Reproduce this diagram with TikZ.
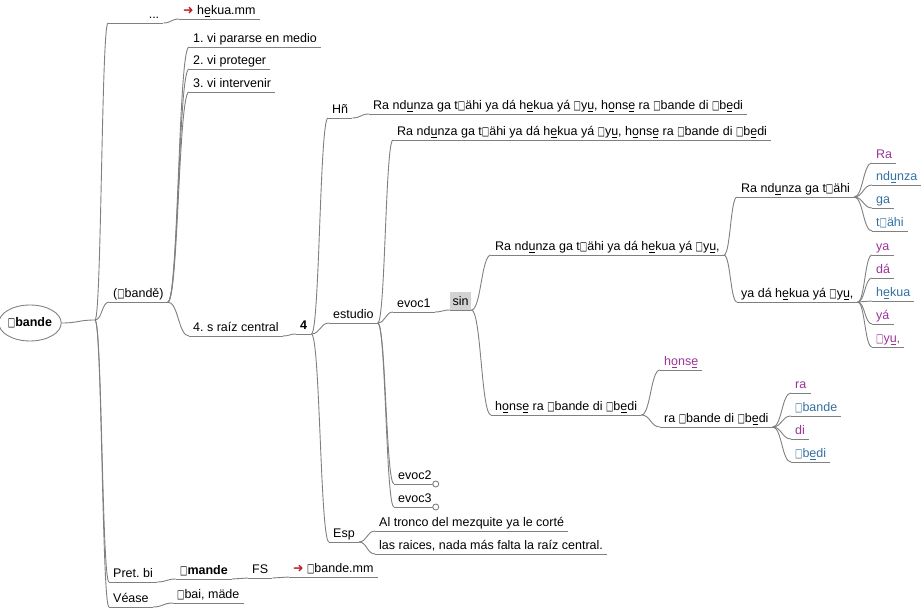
\documentclass[tikz,border=0pt]{standalone}
\usepackage{fontspec}
\usepackage{graphicx}
\usepackage{xcolor}
\usetikzlibrary{positioning, calc, shapes.geometric}
\setmainfont{Liberation Sans}
\newfontfamily\symfont{DejaVu Sans}
\frenchspacing
\definecolor{wirec}{RGB}{128,128,128}
\definecolor{wordA}{RGB}{153,51,153}
\definecolor{wordB}{RGB}{51,112,160}
\definecolor{linkred}{RGB}{190,30,35}
\definecolor{sinfill}{RGB}{210,210,210}
\newcommand{\bx}{{\symfont\scalebox{0.62}[0.95]{□}}}
\newcommand{\lowln}[1]{\setbox0\hbox{#1}\rlap{\kern0.8pt\rule[-1.6pt]{\dimexpr\wd0-1.6pt\relax}{0.45pt}}\box0\relax}
\newcommand{\lnk}{{\symfont\color{linkred}➜}}

\begin{document}
\begin{tikzpicture}[x=1pt, y=-1pt,
    wire/.style={draw=wirec, line width=0.9pt},
    mm/.style={to path={.. controls ($(\tikztostart)!0.5!(\tikztotarget|-\tikztostart)$) and ($(\tikztotarget)!0.5!(\tikztostart|-\tikztotarget)$) .. (\tikztotarget)}},
    leaf/.style={anchor=south west, inner xsep=4pt, inner ysep=0pt, text height=9pt, text depth=4pt, font=\fontsize{12.5}{15}\selectfont,
        append after command={(\tikzlastnode.south west) edge[wire] (\tikzlastnode.south east)}},
    wa/.style={leaf, text=wordA},
    wb/.style={leaf, text=wordB}]
    \useasboundingbox (0,0) rectangle (921,609);

    % root and first level
    \node[ellipse, draw=wirec, line width=0.9pt, minimum width=58pt, minimum height=36pt, inner sep=0pt, font=\fontsize{12.5}{15}\selectfont\bfseries] (root) at (30,323) {\bx bande};
    \coordinate (hub) at (95,320);
    \node[leaf, text width=47pt, align=right] (dots) at (108,23) {...};
    \node[leaf] (lnk1) at (179,19) {\lnk\ h\lowln{e}kua.mm};
    \node[leaf] (paren) at (109,302) {(\bx bandě)};
    \node[leaf] (pret) at (109,582) {Pret. bi};
    \node[leaf] (vease) at (109,607) {Véase};

    % senses
    \node[leaf] (s1) at (189,47) {1. vi pararse en medio};
    \node[leaf] (s2) at (189,69) {2. vi proteger};
    \node[leaf] (s3) at (189,92) {3. vi intervenir};
    \node[leaf] (s4) at (189,336) {4. s raíz central};
    \node[leaf, font=\fontsize{12.5}{15}\selectfont\bfseries] (four) at (296,334) {4};
    \node[leaf] (hn) at (328,118) {Hñ};
    \node[leaf] (est) at (329,323) {estudio};
    \node[leaf] (esp) at (329,542) {Esp};

    % sentences
    \node[leaf] (sentA) at (369,114) {Ra nd\lowln{u}nza ga t\bx ähi ya dá h\lowln{e}kua yá \bx y\lowln{u}, h\lowln{o}ns\lowln{e} ra \bx bande di \bx b\lowln{e}di};
    \node[leaf] (sentB) at (393,140) {Ra nd\lowln{u}nza ga t\bx ähi ya dá h\lowln{e}kua yá \bx y\lowln{u}, h\lowln{o}ns\lowln{e} ra \bx bande di \bx b\lowln{e}di};
    \node[leaf] (evoc1) at (393,312) {evoc1};
    \node[leaf] (evoc2) at (394,484) {evoc2};
    \node[leaf] (evoc3) at (394,507) {evoc3};
    \node[leaf, fill=sinfill, inner xsep=2.5pt, text height=14pt] (sin) at (450,310) {sin};
    \node[leaf] (p1) at (491,255) {Ra nd\lowln{u}nza ga t\bx ähi ya dá h\lowln{e}kua yá \bx y\lowln{u},};
    \node[leaf] (p2) at (491,415) {h\lowln{o}ns\lowln{e} ra \bx bande di \bx b\lowln{e}di};
    \node[leaf] (q1) at (737,197) {Ra nd\lowln{u}nza ga t\bx ähi};
    \node[leaf] (q2) at (737,302) {ya dá h\lowln{e}kua yá \bx y\lowln{u},};
    \node[leaf] (r1) at (660,370) {\color{wordA}h\lowln{o}ns\lowln{e}};
    \node[leaf] (r2) at (660,427) {ra \bx bande di \bx b\lowln{e}di};

    % words
    \node[wa] (w1) at (872,163) {Ra};
    \node[wb] (w2) at (872,185) {nd\lowln{u}nza};
    \node[wb] (w3) at (872,208) {ga};
    \node[wb] (w4) at (872,231) {t\bx ähi};
    \node[wa] (w5) at (872,255) {ya};
    \node[wa] (w6) at (872,278) {dá};
    \node[wb] (w7) at (872,301) {h\lowln{e}kua};
    \node[wa] (w8) at (872,324) {yá};
    \node[wa] (w9) at (872,347) {\bx y\lowln{u},};
    \node[wa] (w10) at (791,393) {ra};
    \node[wb] (w11) at (791,416) {\bx bande};
    \node[wa] (w12) at (791,439) {di};
    \node[wb] (w13) at (791,462) {\bx b\lowln{e}di};

    % translation and forms
    \node[leaf] (e1) at (375,531) {Al tronco del mezquite ya le corté};
    \node[leaf] (e2) at (375,554) {las raices, nada más falta la raíz central.};
    \node[leaf, font=\fontsize{12.5}{15}\selectfont\bfseries] (mande) at (176,579) {\bx mande};
    \node[leaf] (fs) at (248,578) {FS};
    \node[leaf] (lnk2) at (289,577) {\lnk\ \bx bande.mm};
    \node[leaf] (mas) at (173,603) {\bx bai, mäde};

    % connectors
    \draw[wire] (root.east) to[mm] (hub);
    \draw[wire] (hub) to[mm] (dots.south west);
    \draw[wire] (hub) to[mm] (paren.south west);
    \draw[wire] (hub) to[mm] (pret.south west);
    \draw[wire] (hub) to[mm] (vease.south west);
    \draw[wire] (dots.south east) to[mm] (lnk1.south west);
    \draw[wire] (paren.south east) to[mm] (s1.south west);
    \draw[wire] (paren.south east) to[mm] (s2.south west);
    \draw[wire] (paren.south east) to[mm] (s3.south west);
    \draw[wire] (paren.south east) to[mm] (s4.south west);
    \draw[wire] (s4.south east) to[mm] (four.south west);
    \draw[wire] (four.south east) to[mm] (hn.south west);
    \draw[wire] (four.south east) to[mm] (est.south west);
    \draw[wire] (four.south east) to[mm] (esp.south west);
    \draw[wire] (hn.south east) to[mm] (sentA.south west);
    \draw[wire] (est.south east) to[mm] (sentB.south west);
    \draw[wire] (est.south east) to[mm] (evoc1.south west);
    \draw[wire] (est.south east) to[mm] (evoc2.south west);
    \draw[wire] (est.south east) to[mm] (evoc3.south west);
    \draw[wire] (evoc1.south east) to[mm] (sin.south west);
    \draw[wire] (sin.south east) to[mm] (p1.south west);
    \draw[wire] (sin.south east) to[mm] (p2.south west);
    \draw[wire] (p1.south east) to[mm] (q1.south west);
    \draw[wire] (p1.south east) to[mm] (q2.south west);
    \draw[wire] (q1.south east) to[mm] (w1.south west);
    \draw[wire] (q1.south east) to[mm] (w2.south west);
    \draw[wire] (q1.south east) to[mm] (w3.south west);
    \draw[wire] (q1.south east) to[mm] (w4.south west);
    \draw[wire] (q2.south east) to[mm] (w5.south west);
    \draw[wire] (q2.south east) to[mm] (w6.south west);
    \draw[wire] (q2.south east) to[mm] (w7.south west);
    \draw[wire] (q2.south east) to[mm] (w8.south west);
    \draw[wire] (q2.south east) to[mm] (w9.south west);
    \draw[wire] (p2.south east) to[mm] (r1.south west);
    \draw[wire] (p2.south east) to[mm] (r2.south west);
    \draw[wire] (r2.south east) to[mm] (w10.south west);
    \draw[wire] (r2.south east) to[mm] (w11.south west);
    \draw[wire] (r2.south east) to[mm] (w12.south west);
    \draw[wire] (r2.south east) to[mm] (w13.south west);
    \draw[wire] (esp.south east) to[mm] (e1.south west);
    \draw[wire] (esp.south east) to[mm] (e2.south west);
    \draw[wire] (pret.south east) to[mm] (mande.south west);
    \draw[wire] (mande.south east) to[mm] (fs.south west);
    \draw[wire] (fs.south east) to[mm] (lnk2.south west);
    \draw[wire] (vease.south east) to[mm] (mas.south west);

    % folded markers
    \draw[wire, fill=white] (evoc2.south east) circle[radius=3pt];
    \draw[wire, fill=white] (evoc3.south east) circle[radius=3pt];
\end{tikzpicture}
\end{document}
